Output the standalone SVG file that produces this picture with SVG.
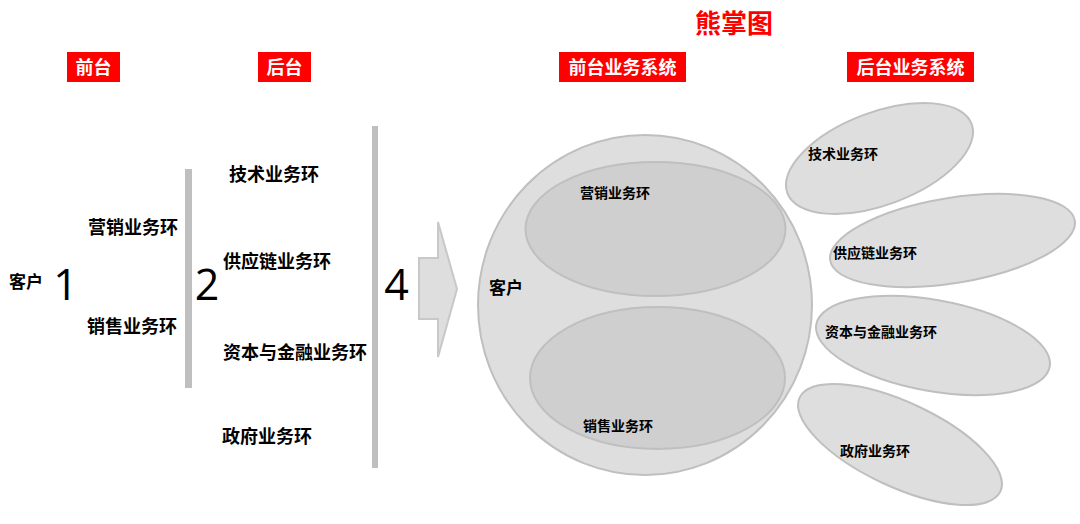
<svg xmlns="http://www.w3.org/2000/svg" width="1080" height="524" viewBox="0 0 1080 524">
<style>
.cjk{font-family:"Noto Sans CJK SC","Noto Sans",sans-serif;font-weight:bold;dominant-baseline:central}
.t18{font-size:18px;fill:#000}
.t14{font-size:14px;fill:#000}
.hdr{font-size:18px;fill:#fff;text-anchor:middle}
.num{font-family:"Open Sans","DejaVu Sans",sans-serif;font-size:43px;fill:#000;text-anchor:middle}
.redbox{fill:#ff0000}
.bar{fill:#bfbfbf}
.outer{fill:#dedede;stroke:#bfbfbf;stroke-width:2}
.inner{fill:#cfcfcf;stroke:#bfbfbf;stroke-width:2}
</style>
<rect width="1080" height="524" fill="#fff"/>
<g id="title">
<text class="cjk" x="734" y="21" font-size="26" fill="#ff0000" text-anchor="middle">熊掌图</text>
</g>
<g id="hdr-front">
<rect class="redbox" x="67" y="52" width="53" height="30"/>
<text class="cjk hdr" x="93.5" y="65.5">前台</text>
</g>
<g id="hdr-back">
<rect class="redbox" x="258" y="52" width="53" height="30"/>
<text class="cjk hdr" x="284.5" y="65.5">后台</text>
</g>
<g id="hdr-front-sys">
<rect class="redbox" x="559" y="52" width="127" height="30"/>
<text class="cjk hdr" x="622.5" y="65.5">前台业务系统</text>
</g>
<g id="hdr-back-sys">
<rect class="redbox" x="847" y="52" width="127" height="30"/>
<text class="cjk hdr" x="910.5" y="65.5">后台业务系统</text>
</g>
<g id="left-customer">
<text class="cjk" x="9" y="280" font-size="17">客户</text>
<text class="num" x="65.5" y="300">1</text>
</g>
<g id="left-front">
<text class="cjk t18" x="88" y="226">营销业务环</text>
<text class="cjk t18" x="87" y="325">销售业务环</text>
<rect class="bar" x="185" y="169" width="7" height="219"/>
<text class="num" x="207" y="300">2</text>
</g>
<g id="left-back">
<text class="cjk t18" x="229" y="173">技术业务环</text>
<text class="cjk t18" x="223" y="260">供应链业务环</text>
<text class="cjk t18" x="223" y="351">资本与金融业务环</text>
<text class="cjk t18" x="222" y="435">政府业务环</text>
<rect class="bar" x="372" y="126" width="6" height="342"/>
<text class="num" x="396.5" y="300">4</text>
</g>
<g id="connectors">
<polygon points="419,258 438,258 438,222 457,289 438,357 438,319 419,319" fill="#dedede" stroke="#c8c8c8" stroke-width="2"/>
</g>
<g id="customer-circle">
<ellipse class="outer" cx="645" cy="305" rx="167" ry="170"/>
<text class="cjk" x="489" y="286" font-size="17">客户</text>
</g>
<g id="front-marketing">
<ellipse class="inner" cx="655.5" cy="229" rx="130" ry="67"/>
<text class="cjk t14" x="580" y="191.5">营销业务环</text>
</g>
<g id="front-sales">
<ellipse class="inner" cx="657.5" cy="378" rx="127.5" ry="71"/>
<text class="cjk t14" x="583" y="424.5">销售业务环</text>
</g>
<g id="back-tech">
<ellipse class="outer" cx="0" cy="0" rx="98.4" ry="46.3" transform="translate(879.5,158.5) rotate(-20.6)"/>
<text class="cjk t14" x="808" y="152.5">技术业务环</text>
</g>
<g id="back-supply">
<ellipse class="outer" cx="0" cy="0" rx="123.9" ry="42.6" transform="translate(952.5,240.5) rotate(-9.25)"/>
<text class="cjk t14" x="833" y="251.5">供应链业务环</text>
</g>
<g id="back-finance">
<ellipse class="outer" cx="0" cy="0" rx="118.6" ry="45.5" transform="translate(933,345.5) rotate(10.3)"/>
<text class="cjk t14" x="825" y="330.5">资本与金融业务环</text>
</g>
<g id="back-gov">
<ellipse class="outer" cx="0" cy="0" rx="110.8" ry="42.2" transform="translate(900,444.5) rotate(25.05)"/>
<text class="cjk t14" x="840" y="449.5">政府业务环</text>
</g>
</svg>
